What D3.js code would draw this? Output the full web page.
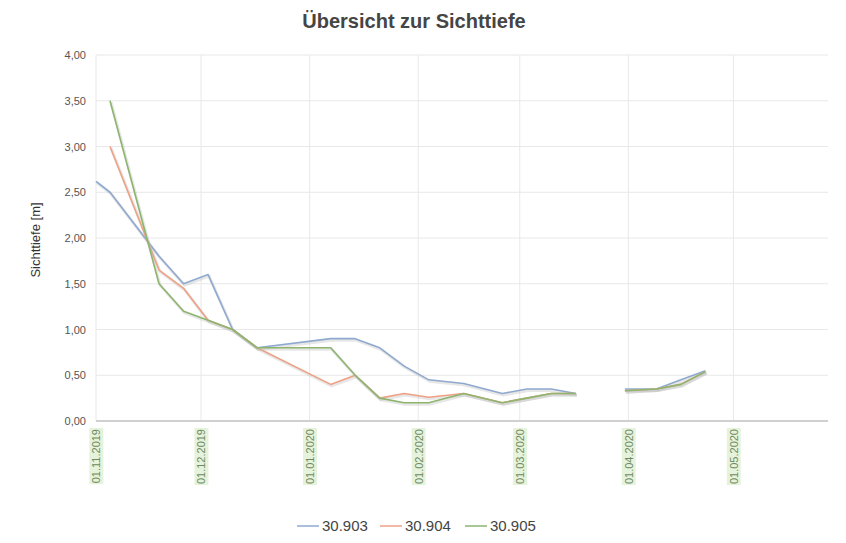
<!DOCTYPE html>
<html><head><meta charset="utf-8">
<script src="https://cdn.jsdelivr.net/npm/d3@7"></script>
<style>body{margin:0;background:#fff;font-family:"Liberation Sans",Arial,sans-serif}</style>
</head><body><svg id="c" width="846" height="543"></svg>
<script>
const title = "Übersicht zur Sichttiefe";
const yTitle = "Sichttiefe [m]";
const dates = ["2019-11-01","2019-11-05","2019-11-19","2019-11-26","2019-12-03","2019-12-10","2019-12-17",
  "2020-01-07","2020-01-14","2020-01-21","2020-01-28","2020-02-04","2020-02-14","2020-02-25","2020-03-03",
  "2020-03-10","2020-03-17","2020-03-24","2020-03-31","2020-04-09","2020-04-16","2020-04-23"];
const s30903 = [2.62,2.50,1.80,1.50,1.60,1.00,0.80,0.90,0.90,0.80,0.60,0.45,0.41,0.30,0.35,0.35,0.30,null,0.35,0.35,0.45,0.55];
const s30904 = [null,3.00,1.65,1.45,1.10,1.00,0.80,0.40,0.50,0.25,0.30,0.26,0.30,0.20,0.25,0.30,0.30,null,0.33,0.35,0.40,0.54];
const s30905 = [null,3.50,1.50,1.20,1.10,1.00,0.80,0.80,0.50,0.25,0.20,0.20,0.30,0.20,0.25,0.30,0.30,null,0.33,0.35,0.40,0.54];
const seriesNames = ["30.903","30.904","30.905"];
const seriesColors = ["#8fa9d0","#eea184","#8db56e"];
const yTicks = [0,0.5,1,1.5,2,2.5,3,3.5,4];
const xTicks = ["2019-11-01","2019-12-01","2020-01-01","2020-02-01","2020-03-01","2020-04-01","2020-05-01"];

const parse = d3.timeParse("%Y-%m-%d");
const fmt = d3.timeFormat("%d.%m.%Y");
const svg = d3.select("#c");
const L=96, R=828, T=55, B=421;
const x = d3.scaleTime().domain([parse("2019-11-01"), parse("2020-05-28")]).range([L,R]);
const y = d3.scaleLinear().domain([0,4]).range([B,T]);

svg.append("text").attr("x",414).attr("y",28).attr("text-anchor","middle")
  .attr("font-size",20).attr("font-weight","bold").attr("fill","#454545").text(title);

// grid
const g = svg.append("g");
g.selectAll("line.hy").data(yTicks).join("line").attr("x1",L).attr("x2",R)
  .attr("y1",d=>y(d)).attr("y2",d=>y(d)).attr("stroke","#e8e8e8").attr("stroke-width",1);
g.selectAll("line.vx").data(xTicks).join("line").attr("x1",d=>x(parse(d))).attr("x2",d=>x(parse(d)))
  .attr("y1",T).attr("y2",B).attr("stroke","#e8e8e8").attr("stroke-width",1);
svg.append("line").attr("x1",L).attr("x2",R).attr("y1",B).attr("y2",B).attr("stroke","#d0d0d0").attr("stroke-width",2);

// y labels
const yAxis = d3.axisLeft(y).tickValues(yTicks).tickSize(0).tickPadding(10)
  .tickFormat(d=>d3.format(".2f")(d).replace(".",","));
const ya = svg.append("g").attr("transform",`translate(${L},0)`).call(yAxis);
ya.select(".domain").remove();
ya.selectAll("text").attr("font-size",11).attr("fill","#555").attr("font-family","'Liberation Sans',Arial,sans-serif");

svg.append("text").attr("transform",`translate(40,${(T+B)/2+2}) rotate(-90)`).attr("text-anchor","middle")
  .attr("font-size",13).attr("fill","#333").text(yTitle);

// x labels
const xa = svg.append("g").attr("transform",`translate(0,${B})`)
  .call(d3.axisBottom(x).tickValues(xTicks.map(parse)).tickSize(0).tickFormat(fmt));
xa.select(".domain").remove();
xa.selectAll(".tick").each(function(){
  const t = d3.select(this);
  const txt = t.select("text").attr("transform","rotate(-90)").attr("text-anchor","end")
    .attr("x",-8).attr("y",0).attr("dy","0.35em").attr("font-size",11).attr("fill","#6e8a60")
    .attr("font-family","'Liberation Sans',Arial,sans-serif");
  const bb = txt.node().getBBox();
  t.insert("rect","text").attr("transform","rotate(-90)").attr("x",bb.x-1).attr("y",bb.y-1)
    .attr("width",bb.width+2).attr("height",bb.height+2).attr("fill","#e6f3dc");
});

// lines
const series = [s30903,s30904,s30905];
const line = d3.line().defined(d=>d.v!==null).x(d=>x(d.d)).y(d=>y(d.v));
series.forEach((vals,i)=>{
  const data = dates.map((d,j)=>({d:parse(d),v:vals[j]}));
  svg.append("path").datum(data).attr("d",line).attr("fill","none")
    .attr("stroke","#bbb").attr("stroke-opacity",0.35).attr("stroke-width",3).attr("transform","translate(1,1.5)");
  svg.append("path").datum(data).attr("d",line).attr("fill","none")
    .attr("stroke",seriesColors[i]).attr("stroke-width",1.6).attr("stroke-linejoin","round");
});

// legend
const lx = [297,380,465];
seriesNames.forEach((n,i)=>{
  svg.append("line").attr("x1",lx[i]).attr("x2",lx[i]+22).attr("y1",526).attr("y2",526)
    .attr("stroke",seriesColors[i]).attr("stroke-width",1.5);
  svg.append("text").attr("x",lx[i]+25).attr("y",531).attr("font-size",15).attr("fill","#444").text(n);
});
</script></body></html>
